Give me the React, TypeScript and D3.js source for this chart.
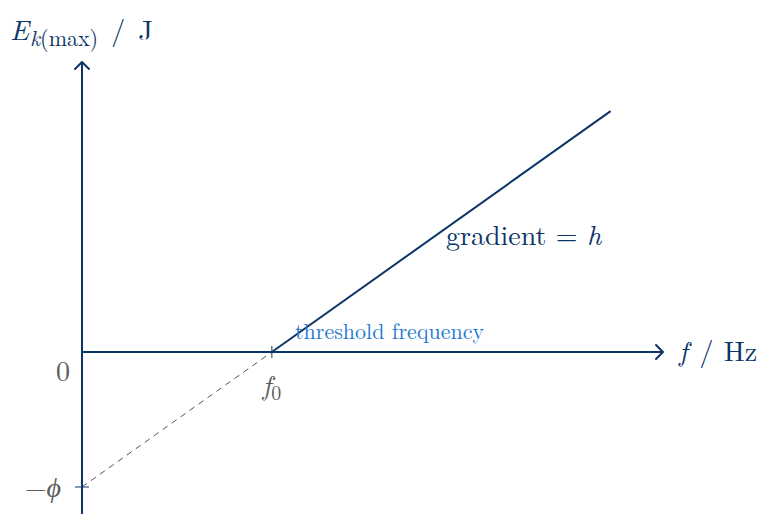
import React from "react";
import { scaleLinear, line } from "d3";

// frequency in units of f0, energy in units of phi (h = 1 in these units)
const fRange = [0, 3.06];
const eRange = [-1.2, 2.148];
const thresholdF = 1;
const workFunction = 1;
const lineEndF = 2.784;

const solidPoints: [number, number][] = [
  [thresholdF, 0],
  [lineEndF, lineEndF - thresholdF],
];
const dashedPoints: [number, number][] = [
  [0, -workFunction],
  [thresholdF, 0],
];

const NAVY = "#0b3566";
const GREY = "#5c5c5c";
const BLUE = "#2678d0";
const FONT = "'Latin Modern Roman', 'CMU Serif', 'Liberation Serif', serif";

const App = () => {
  const width = 763;
  const height = 514;

  const x = scaleLinear().domain(fRange).range([82, 663]);
  const y = scaleLinear().domain(eRange).range([514, 62]);

  const path = line<[number, number]>()
    .x((d) => x(d[0]))
    .y((d) => y(d[1]));

  const x0 = x(0);
  const y0 = y(0);
  const xEnd = x(fRange[1]);
  const yTop = y(eRange[1]);
  const xf0 = x(thresholdF);
  const yPhi = y(-workFunction);

  return (
    <svg
      width={width}
      height={height}
      style={{ position: "absolute", left: 0, top: 0, background: "#fff" }}
    >
      {/* dashed extrapolation */}
      <path
        d={path(dashedPoints) || ""}
        fill="none"
        stroke="#555"
        strokeWidth={1}
        strokeDasharray="6,5"
      />

      {/* axes */}
      <line x1={x0} x2={xEnd} y1={y0} y2={y0} stroke={NAVY} strokeWidth={2} />
      <line x1={x0} x2={x0} y1={height} y2={yTop} stroke={NAVY} strokeWidth={2} />
      <path
        d={`M${xEnd - 7},${y0 - 7} L${xEnd},${y0} L${xEnd - 7},${y0 + 7}`}
        fill="none"
        stroke={NAVY}
        strokeWidth={2}
        strokeLinecap="round"
        strokeLinejoin="round"
      />
      <path
        d={`M${x0 - 7},${yTop + 7} L${x0},${yTop} L${x0 + 7},${yTop + 7}`}
        fill="none"
        stroke={NAVY}
        strokeWidth={2}
        strokeLinecap="round"
        strokeLinejoin="round"
      />

      {/* ticks */}
      <line x1={xf0} x2={xf0} y1={y0 - 6} y2={y0 + 6} stroke={NAVY} strokeWidth={1} />
      <line x1={x0 - 7} x2={x0 + 7} y1={yPhi} y2={yPhi} stroke={NAVY} strokeWidth={1} />

      {/* main line */}
      <path d={path(solidPoints) || ""} fill="none" stroke={NAVY} strokeWidth={2} />

      {/* labels */}
      <g fontFamily={FONT}>
        <text x={10} y={40} fontSize={28} fill={NAVY}>
          <tspan fontStyle="italic">E</tspan>
          <tspan fontSize={22} dy={6} dx={1} fontStyle="italic">k</tspan>
          <tspan fontSize={22}>(max)</tspan>
          <tspan dy={-6} dx={13}>/</tspan>
          <tspan dx={13}>J</tspan>
        </text>
        <text x={679} y={361} fontSize={28} fill={NAVY}>
          <tspan fontStyle="italic">f</tspan>
          <tspan dx={12}>/</tspan>
          <tspan dx={10}>Hz</tspan>
        </text>
        <text x={446} y={245} fontSize={28} fill={NAVY}>
          gradient = <tspan fontStyle="italic">h</tspan>
        </text>
        <text x={295} y={339} fontSize={22} fill={BLUE}>
          threshold frequency
        </text>
        <text x={xf0} y={395} fontSize={28} fill={GREY} textAnchor="middle">
          <tspan fontStyle="italic">f</tspan>
          <tspan fontSize={20} dy={5}>0</tspan>
        </text>
        <text x={70} y={381} fontSize={28} fill={GREY} textAnchor="end">
          0
        </text>
        <text x={61} y={497} fontSize={28} fill={GREY} textAnchor="end">
          −<tspan fontStyle="italic">ϕ</tspan>
        </text>
      </g>
    </svg>
  );
};

export default App;
